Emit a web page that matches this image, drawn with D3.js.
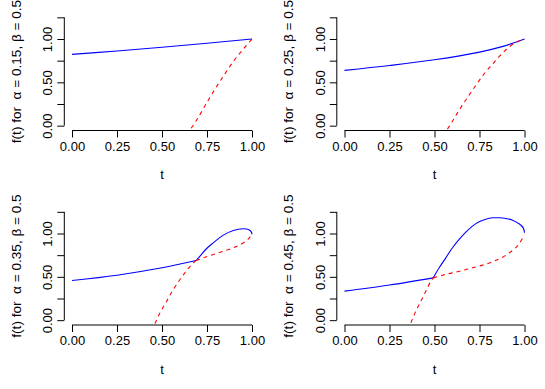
<!DOCTYPE html>
<html>
<head>
<meta charset="utf-8">
<script src="https://cdn.jsdelivr.net/npm/d3@7"></script>
<style>
  body { margin: 0; background: #fff; }
  svg { display: block; font-family: "Liberation Sans", Arial, sans-serif; }
</style>
</head>
<body>
<svg id="chart"></svg>
<script>
// values, one small array per curve piece ([t, f(t)])
const alphas = [0.15, 0.25, 0.35, 0.45]
const beta = 0.5
const xTicks = [0, 0.25, 0.5, 0.75, 1]
const xTickLabels = ['0.00', '0.25', '0.50', '0.75', '1.00']
const yTicks = [0, 0.25, 0.5, 0.75, 1, 1.25]
const yTickLabels = ['0.00', '', '0.50', '', '1.00', '']

const solid015 = [[[0, 0.823], [0.25, 0.862], [0.5, 0.905], [0.75, 0.951], [1, 1.0]]]
const dashed015 = [[[0.662, -0.03], [0.70, 0.09], [0.75, 0.27], [0.80, 0.44], [0.85, 0.60],
  [0.90, 0.75], [0.95, 0.88], [1, 1.0]]]

const solid025 = [[[0, 0.638], [0.25, 0.694], [0.5, 0.760], [0.75, 0.849], [0.875, 0.912], [1, 1.0]]]
const dashed025 = [[[0.572, -0.04], [0.604, 0.065], [0.637, 0.18], [0.674, 0.296], [0.711, 0.41],
  [0.748, 0.52], [0.785, 0.623], [0.822, 0.708], [0.859, 0.796], [0.896, 0.873],
  [0.943, 0.95], [1, 1.0]]]

const solid035 = [
  [[0, 0.458], [0.25, 0.519], [0.5, 0.604], [0.689, 0.688]],
  [[0.689, 0.688], [0.711, 0.738], [0.748, 0.827], [0.785, 0.892], [0.841, 0.981],
    [0.896, 1.035], [0.952, 1.054], [0.98, 1.046], [0.996, 1.019], [1.0, 0.99]]
]
const dashed035 = [
  [[0.461, -0.04], [0.489, 0.085], [0.526, 0.219], [0.563, 0.354], [0.6, 0.469],
    [0.637, 0.573], [0.674, 0.662], [0.689, 0.688]],
  [[0.689, 0.688], [0.73, 0.719], [0.785, 0.758], [0.841, 0.796], [0.896, 0.835],
    [0.943, 0.881], [0.98, 0.938], [1.0, 0.99]]
]

const solid045 = [
  [[0, 0.335], [0.25, 0.405], [0.493, 0.488]],
  [[0.493, 0.488], [0.526, 0.604], [0.563, 0.719], [0.6, 0.835], [0.637, 0.931],
    [0.674, 1.015], [0.711, 1.085], [0.748, 1.135], [0.785, 1.165], [0.822, 1.181],
    [0.859, 1.181], [0.896, 1.173], [0.933, 1.154], [0.970, 1.112], [0.993, 1.065],
    [1.0, 1.008]]
]
const dashed045 = [
  [[0.369, -0.03], [0.396, 0.104], [0.424, 0.219], [0.452, 0.335], [0.480, 0.45], [0.493, 0.488]],
  [[0.493, 0.488], [0.544, 0.519], [0.6, 0.546], [0.656, 0.573], [0.711, 0.604],
    [0.767, 0.635], [0.822, 0.673], [0.878, 0.727], [0.933, 0.804], [0.970, 0.881],
    [1.0, 0.988]]
]

const solids = [solid015, solid025, solid035, solid045]
const dashes = [dashed015, dashed025, dashed035, dashed045]

// layout
let width = 545
let height = 389
let panelW = width / 2
let panelH = height / 2
let plotLeft = 64.8, plotRight = 259.2, plotTop = 13, plotBottom = 130
let fontSize = 13

let svg = d3.select('#chart').attr('width', width).attr('height', height)

// R-style: data range padded 4% on each side
let xPad = 0.04 * (1 - 0)
let yPad = 0.04 * (1.25 - 0)
let xScale = d3.scaleLinear().domain([0 - xPad, 1 + xPad]).range([plotLeft, plotRight])
let yScale = d3.scaleLinear().domain([0 - yPad, 1.25 + yPad]).range([plotBottom, plotTop])

let line = d3.line()
  .x(d => xScale(d[0]))
  .y(d => yScale(d[1]))
  .curve(d3.curveCatmullRom.alpha(0.5))

alphas.forEach((a, i) => {
  let col = i % 2
  let row = Math.floor(i / 2)
  let g = svg.append('g')
    .attr('transform', `translate(${col * panelW},${row * panelH})`)

  g.append('clipPath').attr('id', `clip${i}`)
    .append('rect')
    .attr('x', plotLeft).attr('y', plotTop)
    .attr('width', plotRight - plotLeft).attr('height', plotBottom - plotTop)

  // x axis (only spans the ticks, like base R)
  let xAxis = g.append('g').attr('transform', `translate(0,${plotBottom + 0.5})`)
    .call(d3.axisBottom(xScale).tickValues(xTicks)
      .tickFormat((d, k) => xTickLabels[k]).tickSize(7).tickPadding(4))
  xAxis.select('.domain').attr('d', `M${xScale(0)},0H${xScale(1)}`)

  // y axis with rotated labels
  let yAxis = g.append('g').attr('transform', `translate(${plotLeft - 0.5},0)`)
    .call(d3.axisLeft(yScale).tickValues(yTicks)
      .tickFormat((d, k) => yTickLabels[k]).tickSize(7))
  yAxis.select('.domain').attr('d', `M0,${yScale(0)}V${yScale(1.25)}`)
  yAxis.selectAll('.tick text')
    .attr('x', null).attr('dy', null)
    .attr('text-anchor', 'middle')
    .attr('transform', 'translate(-12,0) rotate(-90)')

  g.selectAll('.tick text').attr('font-size', fontSize).attr('fill', '#000')
    .attr('font-family', '"Liberation Sans", Arial, sans-serif')
  g.selectAll('.domain, .tick line').attr('stroke', '#000')

  // axis titles
  g.append('text')
    .attr('x', (plotLeft + plotRight) / 2)
    .attr('y', 179)
    .attr('text-anchor', 'middle')
    .attr('font-size', fontSize)
    .text('t')

  g.append('text')
    .attr('transform', `translate(20.5,${(plotTop + plotBottom) / 2}) rotate(-90)`)
    .attr('text-anchor', 'middle')
    .attr('font-size', 13.6)
    .attr('xml:space', 'preserve')
    .text(`f(t) for  \u03b1 = ${a.toFixed(2)}, \u03b2 = ${beta}`)

  let curves = g.append('g').attr('clip-path', `url(#clip${i})`)

  curves.selectAll('path.solid')
    .data(solids[i])
    .join('path')
    .attr('class', 'solid')
    .attr('d', line)
    .attr('fill', 'none')
    .attr('stroke', '#0000ff')
    .attr('stroke-width', 1.1)

  curves.selectAll('path.dashed')
    .data(dashes[i])
    .join('path')
    .attr('class', 'dashed')
    .attr('d', line)
    .attr('fill', 'none')
    .attr('stroke', '#ff0000')
    .attr('stroke-width', 1.1)
    .attr('stroke-dasharray', '4,4')
})
</script>
</body>
</html>
